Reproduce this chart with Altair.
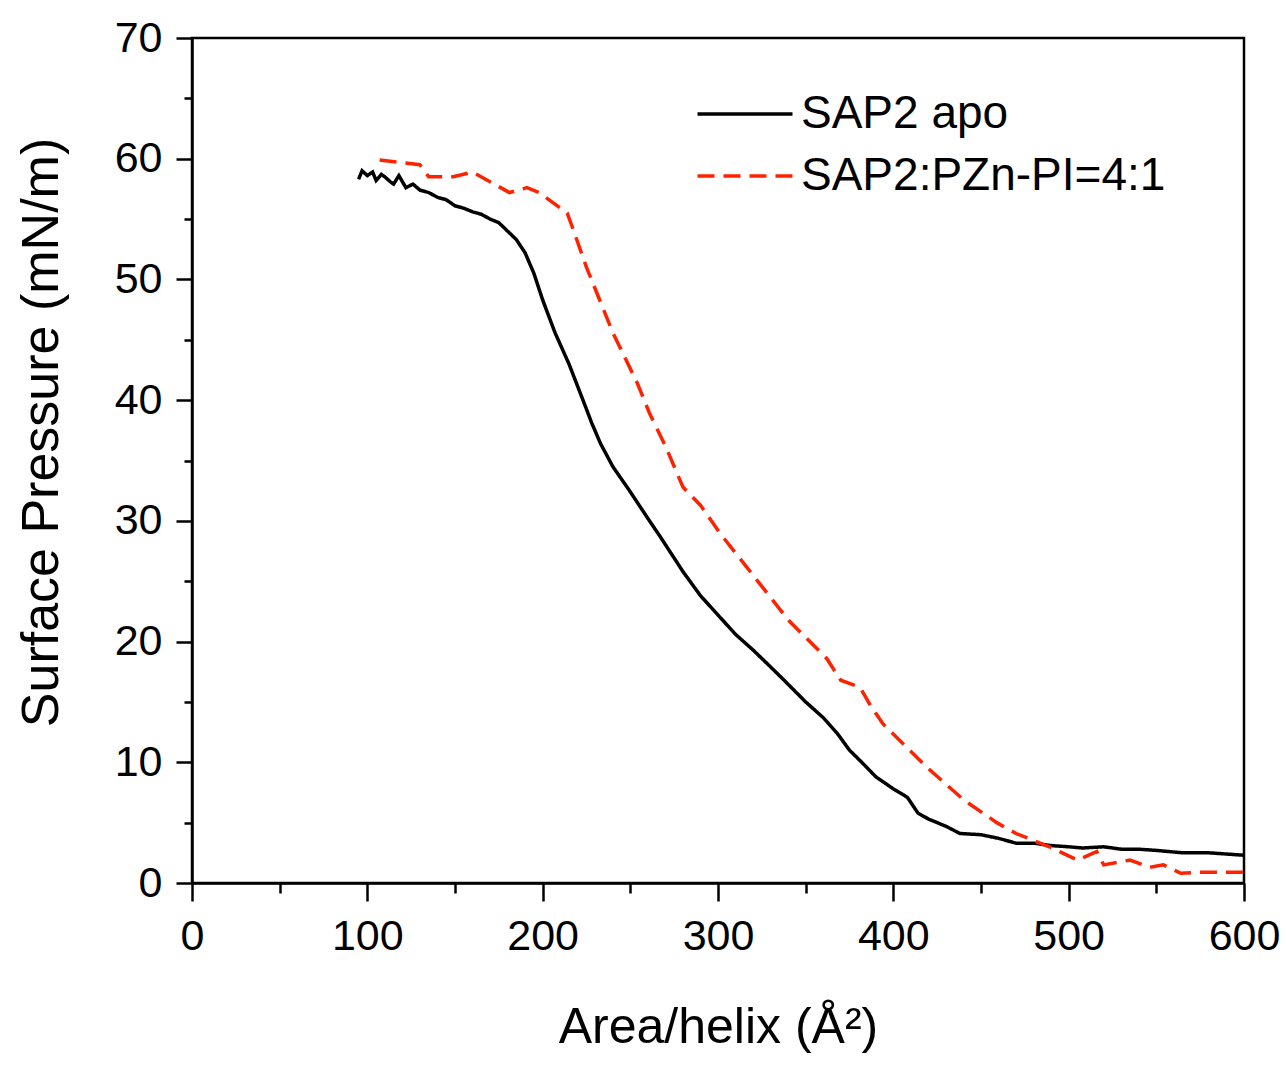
import altair as alt
import pandas as pd

# SAP2 apo (black solid)
apo_x = [95, 97, 100, 103, 105, 108, 110, 113, 115, 118, 122, 126, 130, 135, 140, 145, 150,
         155, 160, 165, 170, 175, 180, 185,
         190, 195, 200, 207, 215, 223, 228, 233, 240, 250, 260, 267, 280, 290, 300, 310,
         320, 330, 337, 350, 360, 368, 375, 382, 390, 400, 408, 414, 420, 430, 438,
         450, 460, 470, 480, 490, 500, 508, 520, 530, 540, 550, 565, 580, 590, 600]
apo_y = [58.3, 59.0, 58.6, 58.9, 58.2, 58.7, 58.5, 58.1, 57.9, 58.6, 57.6, 57.9, 57.4, 57.2, 56.8, 56.6, 56.1,
         55.9, 55.6, 55.4, 55.0, 54.7, 54.0, 53.3,
         52.2, 50.5, 48.3, 45.6, 43.0, 40.0, 38.1, 36.4, 34.5, 32.4, 30.2, 28.7, 25.8, 23.8, 22.2, 20.6,
         19.3, 17.9, 16.9, 15.0, 13.7, 12.4, 11.0, 10.0, 8.8, 7.8, 7.1, 5.8, 5.3, 4.7, 4.1,
         4.0, 3.7, 3.3, 3.3, 3.1, 3.0, 2.9, 3.0, 2.8, 2.8, 2.7, 2.5, 2.5, 2.4, 2.3]

# SAP2:PZn-PI=4:1 (red dashed)
pzn_x = [107, 130, 135, 149, 160, 181, 191, 198, 214, 217, 225, 240, 254, 261, 270,
         280, 290, 301, 320, 340, 362, 370, 381, 387, 394, 419, 440, 451, 459, 470,
         489, 505, 516, 520, 535, 546, 554, 564, 577, 600]
pzn_y = [59.9, 59.5, 58.5, 58.5, 58.9, 57.2, 57.6, 57.2, 55.5, 54.3, 51.0, 45.6, 41.4, 38.9, 36.2,
         32.8, 31.3, 29.0, 25.5, 21.8, 18.6, 16.8, 16.2, 14.7, 13.2, 9.6, 6.9, 5.8, 5.0, 4.1,
         3.0, 1.9, 2.6, 1.5, 1.9, 1.3, 1.5, 0.8, 0.9, 0.9]

series_names = ["SAP2 apo", "SAP2:PZn-PI=4:1"]

df = pd.concat([
    pd.DataFrame({"area": apo_x, "pressure": apo_y, "series": series_names[0]}),
    pd.DataFrame({"area": pzn_x, "pressure": pzn_y, "series": series_names[1]}),
])

FONT = "Liberation Sans"

x_axis = alt.Axis(
    values=list(range(0, 601, 50)),
    labelExpr="datum.value % 100 === 0 ? datum.label : ''",
    tickSize={"condition": {"test": "datum.value % 100 === 0", "value": 18}, "value": 10},
    labelPadding=14,
    labelFlush=False,
    title="Area/helix (Å²)",
    titlePadding=44,
    titleFontSize=50,
    grid=False,
)
y_axis = alt.Axis(
    values=list(range(0, 71, 5)),
    labelExpr="datum.value % 10 === 0 ? datum.label : ''",
    tickSize={"condition": {"test": "datum.value % 10 === 0", "value": 16}, "value": 8},
    labelPadding=14,
    labelFlush=False,
    title="Surface Pressure (mN/m)",
    titlePadding=46,
    titleFontSize=52,
    titleY=394,
    grid=False,
)

chart = alt.Chart(df).mark_line(strokeWidth=3.5).encode(
    x=alt.X("area:Q", scale=alt.Scale(domain=[0, 600], nice=False), axis=x_axis),
    y=alt.Y("pressure:Q", scale=alt.Scale(domain=[0, 70], nice=False), axis=y_axis),
    color=alt.Color("series:N",
                    scale=alt.Scale(domain=series_names, range=["#000000", "#ff2200"]),
                    legend=alt.Legend(title=None, orient="none", legendX=530, legendY=53,
                                      symbolType="M-3,0L3,0", symbolSize=1003,
                                      symbolStrokeWidth=3.5, labelOffset=33,
                                      labelFontSize=46, labelFont=FONT, labelColor="black",
                                      rowPadding=16, padding=0, labelLimit=600)),
    strokeDash=alt.StrokeDash("series:N",
                              scale=alt.Scale(domain=series_names, range=[[1, 0], [17, 9]]),
                              legend=None),
).properties(
    width=1052,
    height=845,
    autosize=alt.AutoSizeParams(type="none"),
    padding={"left": 184, "top": 30, "right": 36, "bottom": 170},
).configure_view(
    stroke="black", strokeWidth=2.5
).configure_axis(
    domainColor="black", domainWidth=2.5,
    tickColor="black", tickWidth=2.5,
    labelFont=FONT, labelFontSize=43, labelColor="black",
    titleFont=FONT, titleFontWeight="normal", titleColor="black",
)

chart.save("out.html", embed_options={"renderer": "svg", "actions": False})
